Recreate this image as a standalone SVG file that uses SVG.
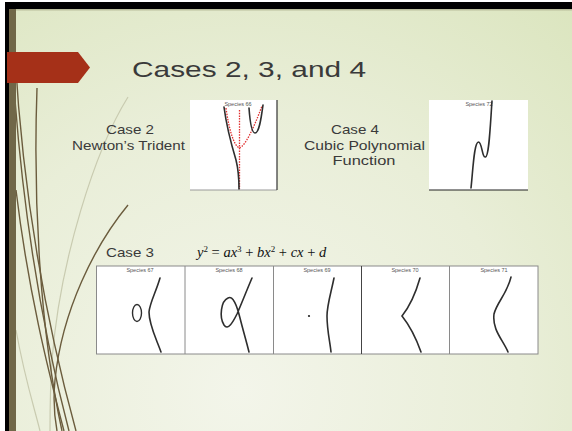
<svg xmlns="http://www.w3.org/2000/svg" width="572" height="431" viewBox="0 0 572 431">
<defs>
<radialGradient id="bg" gradientUnits="userSpaceOnUse" cx="240" cy="390" r="560">
<stop offset="0" stop-color="#f3f5ea"/>
<stop offset="0.5" stop-color="#e9eed8"/>
<stop offset="1" stop-color="#d8e3b9"/>
</radialGradient>
<style>
.t{font-family:"Liberation Sans",Arial,sans-serif;fill:#3a3a3a}
.sp{font-family:"Liberation Sans",Arial,sans-serif;font-size:5.5px;fill:#555;text-anchor:middle}
.box{fill:#fff}
.cv{fill:none;stroke:#2e2e2e;stroke-width:1.6;stroke-linecap:round}
.wd{fill:none;stroke:#6b5c3d;stroke-width:1.4}
.wl{fill:none;stroke:#c9cbb0;stroke-width:1.2}
.eq{font-family:"Liberation Serif","Times New Roman",serif;font-style:italic;font-size:14.5px;fill:#111}
</style>
</defs>
<rect x="0" y="0" width="572" height="431" fill="#ffffff"/>
<rect x="5" y="2" width="567" height="429" fill="#000"/>
<rect x="9" y="9" width="563" height="422" fill="url(#bg)"/>
<rect x="9" y="9" width="563" height="1.5" fill="#b9bd9c"/>
<g id="wisps">
<path class="wl" d="M128,97 C95,150 60,260 52,360 C50,390 50,415 50,431"/>
<path class="wl" d="M16,330 C25,380 35,410 40,431"/>
<path class="wd" stroke-width="0.9" d="M37,88 C33,200 40,330 62,431"/>
<path class="wd" d="M15,55 C22,180 40,300 76,431"/>
<path class="wd" d="M15,100 C25,230 45,340 69,431"/>
<path class="wd" stroke-width="1" d="M16,190 C28,290 48,370 64,431"/>
<path class="wd" stroke-width="1" d="M128,205 C95,245 62,310 55,380 C53,400 55,420 57,431"/>
</g>
<rect x="9" y="9" width="7" height="422" fill="#706748"/>
<polygon id="tag" points="7,52 78,52 90,67.5 78,83 7,83" fill="#a53018"/>
<text class="t" x="132" y="77" font-size="22" textLength="234" lengthAdjust="spacingAndGlyphs">Cases 2, 3, and 4</text>
<g id="case2-label">
<text class="t" x="130" y="134" font-size="13" text-anchor="middle" textLength="48" lengthAdjust="spacingAndGlyphs">Case 2</text>
<text class="t" x="128.5" y="149.5" font-size="13" text-anchor="middle" textLength="113" lengthAdjust="spacingAndGlyphs">Newton’s Trident</text>
</g>
<g id="species66">
<rect class="box" x="190" y="100" width="87" height="90"/>
<line x1="190" y1="190" x2="277" y2="190" stroke="#999" stroke-width="1"/>
<line x1="277" y1="100" x2="277" y2="190" stroke="#333" stroke-width="1.2"/>
<text class="sp" x="238" y="106">Species 66</text>
<line x1="239.5" y1="110" x2="239.5" y2="189" stroke="#e03030" stroke-width="1.3" stroke-dasharray="1.5,1.2"/>
<path d="M226,108 C229,130 234,146 239.5,148 C245,146 253,130 262,106" fill="none" stroke="#e03030" stroke-width="1.3" stroke-dasharray="1.5,1.2"/>
<path class="cv" d="M224,107 C227,130 233,150 236,160 C238.5,170 239,180 239,189"/>
<path class="cv" d="M249,108 C250,122 252,133 255,133 C259,133 261,120 263,105"/>
</g>
<g id="case4-label">
<text class="t" x="355" y="134" font-size="13" text-anchor="middle" textLength="48" lengthAdjust="spacingAndGlyphs">Case 4</text>
<text class="t" x="364.5" y="149.5" font-size="13" text-anchor="middle" textLength="121" lengthAdjust="spacingAndGlyphs">Cubic Polynomial</text>
<text class="t" x="364" y="165" font-size="13" text-anchor="middle" textLength="63" lengthAdjust="spacingAndGlyphs">Function</text>
</g>
<g id="species72">
<rect class="box" x="429" y="100" width="99" height="90"/>
<line x1="429" y1="190" x2="528" y2="190" stroke="#222" stroke-width="1.2"/>
<text class="sp" x="479" y="106">Species 72</text>
<path class="cv" d="M471,188 C473,170 474,142 478.5,142 C482,142 482,158 485.5,157 C489,156 490,130 492,101"/>
</g>
<g id="case3-label">
<text class="t" x="130" y="257" font-size="13" text-anchor="middle" textLength="48" lengthAdjust="spacingAndGlyphs">Case 3</text>
<text class="eq" x="197" y="257">y<tspan font-size="9" dy="-5.5" font-style="normal">2</tspan><tspan dy="5.5" font-style="normal"> = </tspan>ax<tspan font-size="9" dy="-5.5" font-style="normal">3</tspan><tspan dy="5.5" font-style="normal"> + </tspan>bx<tspan font-size="9" dy="-5.5" font-style="normal">2</tspan><tspan dy="5.5" font-style="normal"> + </tspan>cx<tspan font-style="normal"> + </tspan>d</text>
</g>
<g id="panels">
<rect class="box" x="96.5" y="266" width="441.5" height="88"/>
<rect x="96.5" y="266" width="441.5" height="88" fill="none" stroke="#8a8a8a" stroke-width="1"/>
<line x1="185" y1="266" x2="185" y2="354" stroke="#8a8a8a" stroke-width="1"/>
<line x1="273.5" y1="266" x2="273.5" y2="354" stroke="#8a8a8a" stroke-width="1"/>
<line x1="361.5" y1="266" x2="361.5" y2="354" stroke="#444" stroke-width="1"/>
<line x1="449.5" y1="266" x2="449.5" y2="354" stroke="#8a8a8a" stroke-width="1"/>
</g>
<g id="species67">
<text class="sp" x="140" y="272">Species 67</text>
<ellipse cx="137" cy="313" rx="4.5" ry="8.5" fill="none" stroke="#2e2e2e" stroke-width="1.4"/>
<path class="cv" d="M160,278 C156,292 150,302 149,312 C149,325 156,338 161,352"/>
</g>
<g id="species68">
<text class="sp" x="229" y="272">Species 68</text>
<path class="cv" d="M252,278 C246,292 241,305 237,314 C233,322 228,331 224,325 C219,317 221,301 228,298 C233,295 237,306 240,318 C243,330 246,340 249,352"/>
</g>
<g id="species69">
<text class="sp" x="317" y="272">Species 69</text>
<circle cx="309" cy="316" r="1.1" fill="#222"/>
<path class="cv" d="M334,278 C331,293 327,305 327,316 C327,330 330,342 331,352"/>
</g>
<g id="species70">
<text class="sp" x="405" y="272">Species 70</text>
<path class="cv" d="M420,278 C416,292 410,306 402,316 C410,326 416,338 421,352"/>
</g>
<g id="species71">
<text class="sp" x="494" y="272">Species 71</text>
<path class="cv" d="M511,277 C507,294 497,302 494,314 C492,330 503,340 508,352"/>
</g>
</svg>
